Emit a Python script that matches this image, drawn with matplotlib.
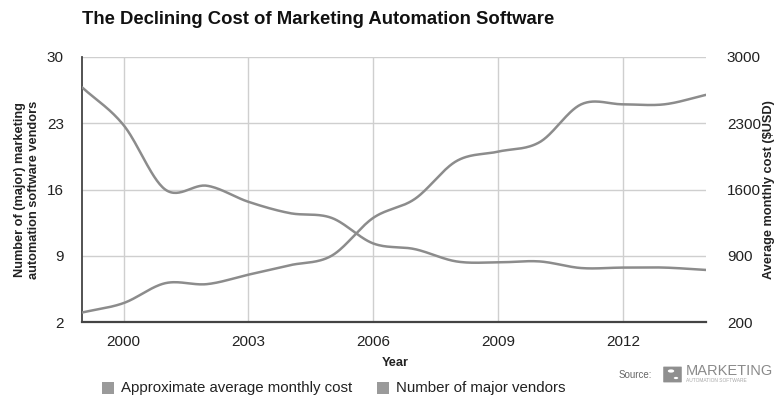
import numpy as np
import matplotlib
matplotlib.use("Agg")
import matplotlib.pyplot as plt
from matplotlib.patches import Rectangle, FancyBboxPatch, Circle

plt.rcParams['font.family'] = ['Liberation Sans', 'DejaVu Sans']

# Data: yearly values
years = [1999, 2000, 2001, 2002, 2003, 2004, 2005, 2006, 2007, 2008,
         2009, 2010, 2011, 2012, 2013, 2014]
monthly_cost = [2680, 2280, 1600, 1640, 1470, 1350, 1300, 1030, 970, 840,
                830, 840, 770, 775, 775, 750]
vendor_count = [3.0, 4.0, 6.1, 6.0, 7.0, 8.0, 9.0, 13.0, 15.0, 19.0,
                20.0, 21.0, 25.0, 25.0, 25.0, 26.0]

x_ticks = [2000, 2003, 2006, 2009, 2012]
left_ticks = [2, 9, 16, 23, 30]
right_ticks = [200, 900, 1600, 2300, 3000]

title = "The Declining Cost of Marketing Automation Software"
left_label = "Number of (major) marketing\nautomation software vendors"
right_label = "Average monthly cost ($USD)"
cost_name = "Approximate average monthly cost"
vendor_name = "Number of major vendors"

LINE = "#8c8c8c"
GRID = "#cfcfcf"
AXIS = "#444444"
TEXT = "#222222"


def smooth(xs, ys, n=30):
    """Catmull-Rom spline through the points."""
    xs = np.asarray(xs, float)
    ys = np.asarray(ys, float)
    m = np.zeros_like(ys)
    m[1:-1] = (ys[2:] - ys[:-2]) / (xs[2:] - xs[:-2])
    m[0] = (ys[1] - ys[0]) / (xs[1] - xs[0])
    m[-1] = (ys[-1] - ys[-2]) / (xs[-1] - xs[-2])
    ox, oy = [], []
    for i in range(len(xs) - 1):
        h = xs[i + 1] - xs[i]
        t = np.linspace(0, 1, n, endpoint=False)
        h00 = 2 * t**3 - 3 * t**2 + 1
        h10 = t**3 - 2 * t**2 + t
        h01 = -2 * t**3 + 3 * t**2
        h11 = t**3 - t**2
        ox.append(xs[i] + t * h)
        oy.append(h00 * ys[i] + h10 * h * m[i] + h01 * ys[i + 1] + h11 * h * m[i + 1])
    ox.append([xs[-1]])
    oy.append([ys[-1]])
    return np.concatenate(ox), np.concatenate(oy)


fig = plt.figure(figsize=(7.78, 3.98), dpi=100)
fig.patch.set_facecolor("white")
ax = fig.add_axes([82 / 778, 1 - 322 / 398, 624 / 778, 265 / 398])
ax2 = ax.twinx()

ax.set_xlim(1999, 2014)
ax.set_ylim(2, 30)
ax2.set_ylim(200, 3000)

ax.set_xticks(x_ticks)
ax.set_yticks(left_ticks)
ax2.set_yticks(right_ticks)
ax.grid(True, color=GRID, linewidth=1.0)
ax.set_axisbelow(True)

vx, vy = smooth(years, vendor_count)
cx, cy = smooth(years, monthly_cost)
ax.plot(vx, vy, color=LINE, linewidth=1.8, solid_capstyle="round", zorder=3)
ax2.plot(cx, cy, color=LINE, linewidth=1.8, solid_capstyle="round", zorder=3)

for a in (ax, ax2):
    for side in ("top", "right"):
        a.spines[side].set_visible(False)
    a.spines["left"].set_visible(a is ax)
    a.spines["bottom"].set_visible(a is ax)
ax.spines["left"].set_color(AXIS)
ax.spines["bottom"].set_color(AXIS)
ax.spines["left"].set_linewidth(1.3)
ax.spines["bottom"].set_linewidth(1.6)

ax.tick_params(axis="both", length=0, labelsize=11, colors=TEXT)
ax.tick_params(axis="y", pad=13)
ax.tick_params(axis="x", pad=9)
ax2.tick_params(axis="y", length=0, labelsize=11, colors=TEXT, pad=15)

fig.text(82 / 778, 1 - 19 / 398, title, fontsize=13.3, fontweight="bold",
         color="#111111", ha="left", va="center")
fig.text(27 / 778, 1 - 190 / 398, left_label, rotation=90, fontsize=9.2,
         fontweight="bold", color=TEXT, ha="center", va="center",
         multialignment="center", linespacing=1.3)
fig.text(769 / 778, 1 - 190 / 398, right_label, rotation=90, fontsize=9.2,
         fontweight="bold", color=TEXT, ha="center", va="center")
fig.text(395 / 778, 1 - 363 / 398, "Year", fontsize=9.2, fontweight="bold",
         color=TEXT, ha="center", va="center")

# Legend
sq = 12
for x0, label in ((102, cost_name), (377, vendor_name)):
    fig.patches.append(Rectangle((x0 / 778, 1 - 394 / 398), sq / 778, sq / 398,
                                 transform=fig.transFigure, facecolor="#9a9a9a",
                                 edgecolor="none"))
    fig.text((x0 + 19) / 778, 1 - 388 / 398, label, fontsize=10.8,
             color=TEXT, ha="left", va="center")

# Source mark
fig.text(619 / 778, 1 - 375 / 398, "Source:", fontsize=7, color="#666666",
         ha="left", va="center")
fig.patches.append(FancyBboxPatch((664 / 778, 1 - 382 / 398), 17 / 778, 15 / 398,
                                  boxstyle="round,pad=0.001",
                                  transform=fig.transFigure,
                                  facecolor="#8f8f8f", edgecolor="none"))
fig.patches.append(Circle((671 / 778, 1 - 371 / 398), 3.2 / 778,
                          transform=fig.transFigure, facecolor="white",
                          edgecolor="none"))
fig.patches.append(Circle((676 / 778, 1 - 378 / 398), 2.2 / 778,
                          transform=fig.transFigure, facecolor="white",
                          edgecolor="none"))
fig.text(686 / 778, 1 - 371 / 398, "MARKETING", fontsize=10.5, color="#8a8a8a",
         ha="left", va="center")
fig.text(686 / 778, 1 - 380 / 398, "AUTOMATION SOFTWARE", fontsize=3.5,
         color="#a8a8a8", ha="left", va="center")

fig.savefig("out.png", dpi=100, facecolor="white")
